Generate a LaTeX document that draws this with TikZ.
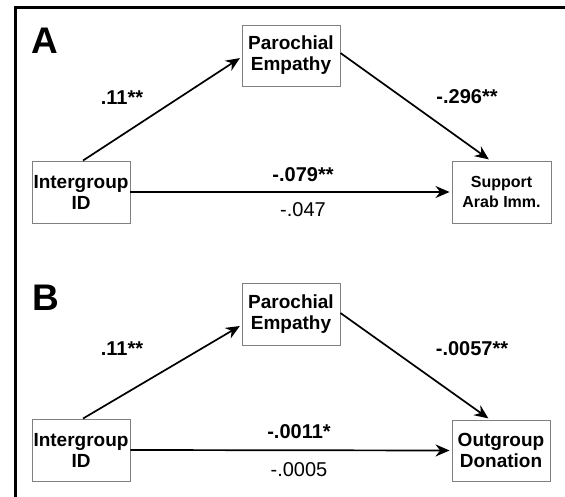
\documentclass[tikz,border=0pt]{standalone}
\usepackage{fontspec}
\setmainfont{Liberation Sans}
\usetikzlibrary{arrows.meta}
\begin{document}
\begin{tikzpicture}[x=1pt,y=-1pt,
  varbox/.style={draw=black!50, line width=0.9pt, fill=white, align=center, inner sep=0pt,
    font=\fontsize{19}{21}\selectfont\bfseries},
  smallbox/.style={varbox, font=\fontsize{16}{20}\selectfont\bfseries},
  path/.style={line width=1.7pt, -{Stealth[length=14pt,width=12pt]}, shorten >=2pt},
  coef/.style={font=\fontsize{20}{22}\selectfont\bfseries, inner sep=0pt},
  coefn/.style={font=\fontsize{20}{22}\selectfont, inner sep=0pt},
  panel/.style={font=\fontsize{37}{40}\selectfont\bfseries, inner sep=0pt}]
\useasboundingbox (0,0) rectangle (565,497);
\fill[white] (0,0) rectangle (565,497);
\draw[line width=3pt] (15,497) -- (15,8) -- (565,8);

% Panel A
\node[panel] (la) at (45,41) {A};
\node[varbox, minimum width=98pt, minimum height=61pt] (peA) at (291,55.5) {Parochial\\Empathy};
\node[varbox, minimum width=98pt, minimum height=62pt] (igA) at (81,192) {Intergroup\\ID};
\node[smallbox, minimum width=99pt, minimum height=62pt] (suA) at (501.5,192) {Support\\Arab Imm.};
\draw[path] ([xshift=2pt]igA.north) -- ([yshift=-1.5pt]peA.west);
\draw[path] ([yshift=2.5pt]peA.east) -- ([xshift=-11pt]suA.north);
\draw[path] (igA.east) -- (suA.west);
\node[coef] (aA) at (122,98) {.11**};
\node[coef] (bA) at (467,97) {-.296**};
\node[coef] (cA) at (303,175) {-.079**};
\node[coefn] (dA) at (303,210) {-.047};

% Panel B
\node[panel] (lb) at (46,298) {B};
\node[varbox, minimum width=98pt, minimum height=62pt] (peB) at (291,314) {Parochial\\Empathy};
\node[varbox, minimum width=98pt, minimum height=62pt] (igB) at (81,450) {Intergroup\\ID};
\node[varbox, minimum width=98pt, minimum height=61pt] (ouB) at (501,450.5) {Outgroup\\Donation};
\draw[path] ([xshift=2pt]igB.north) -- ([yshift=-11pt]peB.west);
\draw[path] ([yshift=1pt]peB.east) -- ([xshift=-11pt]ouB.north);
\draw[path] (igB.east) -- (ouB.west);
\node[coef] (aB) at (122,349) {.11**};
\node[coef] (bB) at (472,349) {-.0057**};
\node[coef] (cB) at (299,432) {-.0011*};
\node[coefn] (dB) at (299,470) {-.0005};
\end{tikzpicture}
\end{document}
